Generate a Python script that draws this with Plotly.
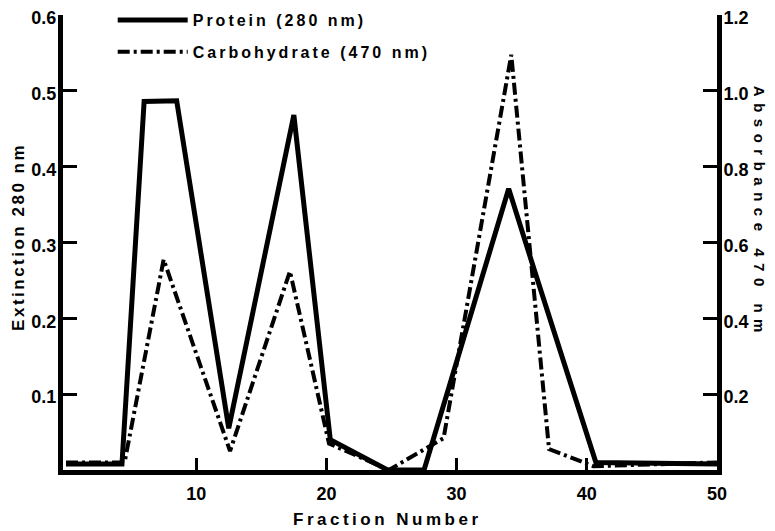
import plotly.graph_objects as go

# ---- data ----
protein_x = [0, 4.3, 6.0, 8.5, 12.5, 17.5, 20.3, 24.7, 27.5, 34.0, 36.0, 40.7, 50]
protein_y = [0.008, 0.008, 0.486, 0.487, 0.055, 0.468, 0.040, 0.0, 0.0, 0.371, 0.262, 0.01, 0.008]  # Extinction 280 nm

carb_x = [0, 4.5, 7.5, 12.6, 17.2, 20.2, 24.8, 29.0, 34.2, 37.1, 40.5, 50]
carb_y = [0.02, 0.02, 0.555, 0.05, 0.524, 0.07, 0.0, 0.084, 1.095, 0.055, 0.01, 0.02]  # Absorbance 470 nm

x_ticks = [10, 20, 30, 40, 50]
left_ticks = [0.1, 0.2, 0.3, 0.4, 0.5, 0.6]
left_labels = ["0.1", "0.2", "0.3", "0.4", "0.5", "0.6"]
right_ticks = [0.2, 0.4, 0.6, 0.8, 1.0, 1.2]
right_labels = ["0.2", "0.4", "0.6", "0.8", "1.0", "1.2"]

FONT = "Liberation Sans, Arial, Helvetica, sans-serif"

def spaced(t, px=2):
    return f'<span style="letter-spacing:{px}px">{t}</span>'

def bfont(size):
    return dict(family=FONT, size=size, color="black", weight="bold")

fig = go.Figure()
fig.add_trace(go.Scatter(
    x=protein_x, y=protein_y, mode="lines", name=spaced("Protein (280 nm)", 3),
    legendgroup="p", line=dict(color="black", width=5), yaxis="y"))
fig.add_trace(go.Scatter(
    x=carb_x, y=carb_y, mode="lines", name=spaced("Carbohydrate (470 nm)", 3),
    legendgroup="c", line=dict(color="black", width=4, dash="12px,4px,3px,4px"),
    yaxis="y2"))

axis_common = dict(showgrid=False, zeroline=False, showline=True, linecolor="black",
                   linewidth=5, ticks="inside", tickcolor="black", tickwidth=2.5,
                   tickfont=bfont(18), ticklabeloverflow="allow")

fig.update_layout(
    width=767, height=523,
    margin=dict(l=55, r=58, t=7, b=61, autoexpand=False),
    paper_bgcolor="white", plot_bgcolor="white",
    font=dict(family=FONT, color="black", weight="bold"),
    xaxis=dict(range=[-0.23, 50], tickvals=x_ticks, ticklen=12,
               ticklabelstandoff=3, **axis_common),
    yaxis=dict(range=[0, 0.6], tickvals=left_ticks, ticktext=left_labels,
               ticklen=14, ticklabelstandoff=-2, ticklabelshift=3, **axis_common),
    yaxis2=dict(range=[0, 1.2], tickvals=right_ticks, ticktext=right_labels,
                overlaying="y", side="right", ticklen=14, ticklabelstandoff=-2,
                ticklabelshift=3, **axis_common),
    showlegend=True,
    legend=dict(x=0.076, y=1.026, xanchor="left", yanchor="top",
                bgcolor="rgba(0,0,0,0)", itemwidth=70, tracegroupgap=8,
                font=bfont(16)),
    annotations=[
        dict(text=spaced("Fraction Number", 3.5), xref="paper", yref="paper",
             x=0.496, y=-0.108, xanchor="center", yanchor="middle", showarrow=False,
             font=bfont(17)),
        dict(text=spaced("Extinction 280 nm", 2.5), xref="paper", yref="paper",
             x=-0.069, y=0.512, xanchor="center", yanchor="middle", showarrow=False,
             textangle=-90, font=bfont(17)),
        dict(text=spaced("Absorbance 470 nm", 6.5), xref="paper", yref="paper",
             x=1.066, y=0.567, xanchor="center", yanchor="middle", showarrow=False,
             textangle=90, font=bfont(15)),
    ],
)

fig.write_html("out.html")
